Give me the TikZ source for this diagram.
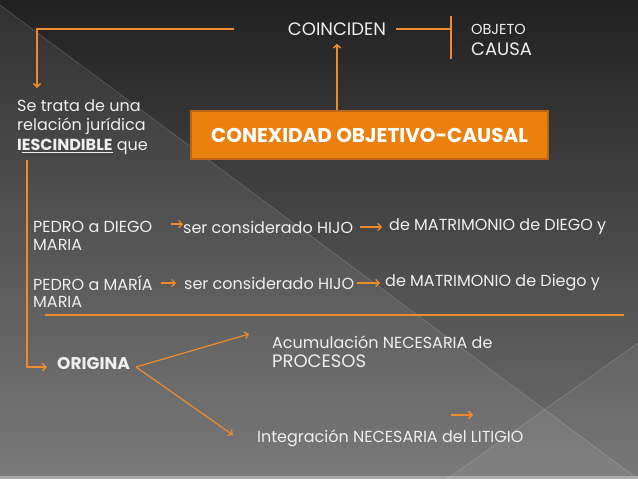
\documentclass[tikz,border=0pt]{standalone}
\usepackage{fontspec}
\setmainfont{Poppins}
\usetikzlibrary{arrows.meta,positioning,calc}
\definecolor{slideTop}{RGB}{33,33,33}
\definecolor{slideBottom}{RGB}{112,112,112}
\definecolor{lineOrange}{RGB}{240,138,44}
\definecolor{boxOrange}{RGB}{234,128,14}
\definecolor{boxEdge}{RGB}{190,100,22}
\definecolor{paleText}{RGB}{238,238,238}

\begin{document}
\begin{tikzpicture}[x=1pt, y=-1pt,
txt/.style={text=paleText, inner sep=0pt, anchor=west, align=left, font=\fontsize{16}{19.5}\selectfont},
small/.style={txt, font=\fontsize{14.5}{16}\selectfont},
big/.style={txt, font=\fontsize{18}{20}\selectfont},
titlebox/.style={draw=boxEdge, line width=1.5pt, fill=boxOrange, text=white, minimum width=357pt, minimum height=48pt, font=\fontsize{20}{22}\selectfont\bfseries},
link/.style={draw=lineOrange, line width=1.5pt},
arrow/.style={link, -{Straight Barb[length=3.5pt,width=7pt]}}
]
\useasboundingbox (0,0) rectangle (638,479);
\shade[top color=slideTop, bottom color=slideBottom] (0,0) rectangle (638,479);
\fill[white, opacity=0.07] (0,5) -- (638,479) -- (0,479) -- cycle;
\fill[white, opacity=0.06] (638,343) -- (447,479) -- (638,479) -- cycle;
\draw[white, opacity=0.18, line width=0.6pt] (0,5) -- (638,479);
\draw[white, opacity=0.18, line width=0.6pt] (638,343) -- (447,479);
\fill[white, opacity=0.35] (0,476) rectangle (638,479);

\node[titlebox] (cx) at (369.5,135) {CONEXIDAD OBJETIVO-CAUSAL};
\node[big, anchor=center] (coin) at (337,29) {COINCIDEN};
\node[small] (obj) at (471,29) {OBJETO};
\node[big] (causa) at (471,49) {CAUSA};
\draw[arrow] (cx.north -| coin.south) -- ([yshift=-8pt]coin.south);
\coordinate (barTop) at (451,16);
\coordinate (barBot) at (451,59);
\draw[link] ([xshift=10pt]coin.east) -- (barTop |- coin.east);
\draw[link] (barTop) -- (barBot);

\node[txt] (trata) at (17,127) {Se trata de una\\relación jurídica\\\textbf{I\underline{ESCINDIBLE}} que};
\coordinate (topEnd) at (234,29);
\coordinate (topCorner) at (37,29);
\coordinate (trataTip) at (37,88);
\draw[arrow] (topEnd) -- (topCorner) -- (trataTip);

\node[txt] (pdA) at (33,227) {PEDRO a DIEGO};
\node[txt] (hijoA) at (183,227) {ser considerado HIJO};
\node[txt] (matA) at (389,227) {de MATRIMONIO de DIEGO y};
\node[txt] (mariaA) at (33,245) {MARIA};
\draw[arrow, line width=1.2pt] ([xshift=19pt,yshift=3pt]pdA.east) -- ([yshift=3pt]hijoA.west);
\draw[arrow, line width=1.2pt] ([xshift=7pt]hijoA.east) -- ([xshift=-7pt]matA.west);

\node[txt] (pdB) at (33,283) {PEDRO a MARÍA};
\node[txt] (hijoB) at (184,283) {ser considerado HIJO};
\node[txt] (matB) at (385,283) {de MATRIMONIO de Diego y};
\node[txt] (mariaB) at (33,302) {MARIA};
\draw[arrow, line width=1.2pt] ([xshift=8pt]pdB.east) -- ([xshift=-8pt]hijoB.west);
\draw[arrow, line width=1.2pt] ([xshift=3pt]hijoB.east) -- ([xshift=-5pt]matB.west);

\coordinate (sepL) at (45,315);
\coordinate (sepR) at (624,315);
\draw[link] (sepL) -- (sepR);

\node[txt, font=\fontsize{17}{19}\selectfont\bfseries] (orig) at (57,364) {ORIGINA};
\coordinate (leftTop) at (27,160);
\draw[arrow] (leftTop) |- ([xshift=-10pt,yshift=-3pt]orig.west);

\node[txt] (acu) at (272,342) {Acumulación NECESARIA de};
\node[big] (proc) at (272,361) {PROCESOS};
\node[txt] (integ) at (257,438) {Integración NECESARIA del LITIGIO};
\coordinate (origOut) at (136,367);
\coordinate (acuTip) at (249,334);
\coordinate (intTip) at (233,435);
\draw[arrow, line width=1.2pt] (origOut) -- (acuTip);
\draw[arrow, line width=1.2pt] (origOut) -- (intTip);

\coordinate (strayA) at (451,415);
\coordinate (strayB) at (473,415);
\draw[arrow] (strayA) -- (strayB);
\end{tikzpicture}
\end{document}
